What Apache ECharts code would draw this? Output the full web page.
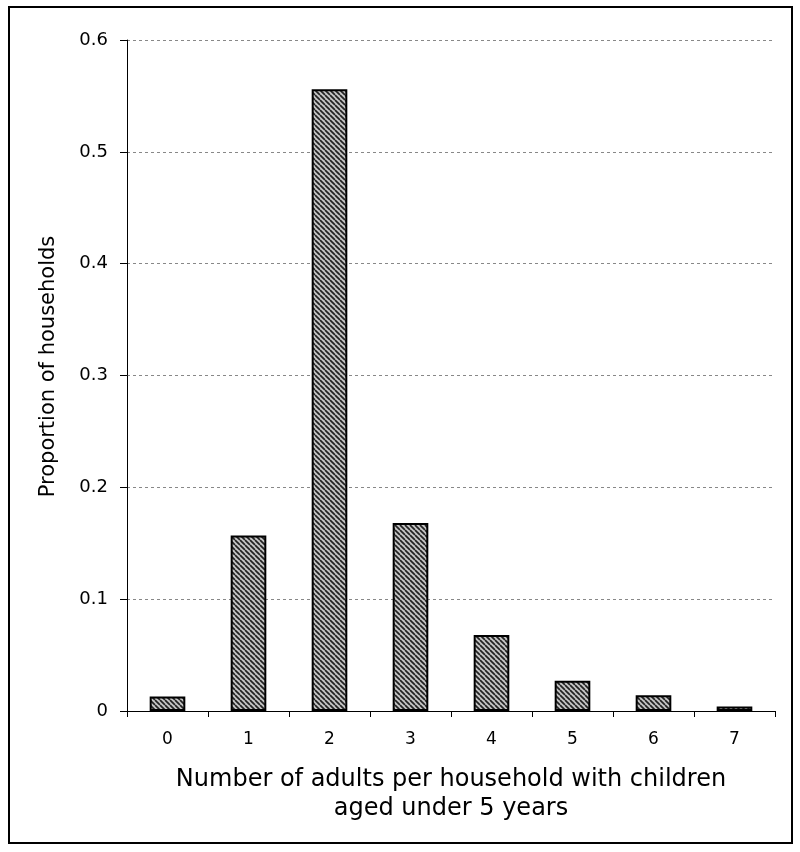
<!DOCTYPE html>
<html>
<head>
<meta charset="utf-8">
<script src="https://cdn.jsdelivr.net/npm/echarts@6/dist/echarts.min.js"></script>
<style>
html,body{margin:0;padding:0;background:#fff;}
#c{width:800px;height:852px;}
</style>
</head>
<body>
<div id="c"></div>
<script>
const categories = ['0','1','2','3','4','5','6','7'];
const proportions = [0.013, 0.157, 0.556, 0.168, 0.068, 0.027, 0.014, 0.004];
const yTicks = [0, 0.1, 0.2, 0.3, 0.4, 0.5, 0.6];
const xTitle = 'Number of adults per household with children\naged under 5 years';
const yTitle = 'Proportion of households';

function hatch() {
  const s = 5;
  const cv = document.createElement('canvas');
  cv.width = s; cv.height = s;
  const g = cv.getContext('2d');
  g.fillStyle = '#c4c4c4';
  g.fillRect(0, 0, s, s);
  g.strokeStyle = '#222';
  g.lineWidth = 1.7;
  for (let k = -1; k <= 1; k++) {
    g.beginPath();
    g.moveTo(k * s, 0);
    g.lineTo(k * s + s, s);
    g.stroke();
  }
  return cv;
}

const chart = echarts.init(document.getElementById('c'), null, {renderer: 'canvas'});
const font = 'DejaVu Sans, sans-serif';
chart.setOption({
  animation: false,
  backgroundColor: '#fff',
  graphic: [{
    type: 'rect',
    shape: {x: 9, y: 7, width: 783, height: 836},
    style: {fill: 'none', stroke: '#000', lineWidth: 2},
    silent: true
  }],
  grid: {left: 127, right: 25, top: 40, bottom: 141},
  xAxis: {
    type: 'category',
    data: categories,
    boundaryGap: true,
    axisLine: {lineStyle: {color: '#000', width: 1}},
    axisTick: {show: true, length: 6, lineStyle: {color: '#000'}},
    axisLabel: {color: '#000', fontSize: 17, fontFamily: font, margin: 20},
    name: xTitle,
    nameLocation: 'middle',
    nameGap: 54,
    nameTextStyle: {color: '#000', fontSize: 24, fontFamily: font, lineHeight: 29, verticalAlign: 'top'}
  },
  yAxis: {
    type: 'value',
    min: 0, max: 0.6, interval: 0.1,
    axisLine: {show: true, lineStyle: {color: '#000', width: 1}},
    axisTick: {show: true, length: 7, lineStyle: {color: '#000'}},
    axisLabel: {color: '#000', fontSize: 18, fontFamily: font, margin: 19,
      formatter: v => { const t = yTicks.find(x => Math.abs(x - v) < 1e-9); return t === 0 ? '0' : String(+t.toFixed(1)); }},
    splitLine: {show: true, lineStyle: {color: '#888', type: [3, 3], width: 1}},
    name: yTitle,
    nameLocation: 'middle',
    nameGap: 68,
    nameTextStyle: {color: '#000', fontSize: 21, fontFamily: font, padding: [0, 0, 0, 18]}
  },
  series: [{
    type: 'bar',
    data: proportions,
    barWidth: '44%',
    itemStyle: {
      color: {image: hatch(), repeat: 'repeat'},
      borderColor: '#000',
      borderWidth: 2
    }
  }]
});
</script>
</body>
</html>
